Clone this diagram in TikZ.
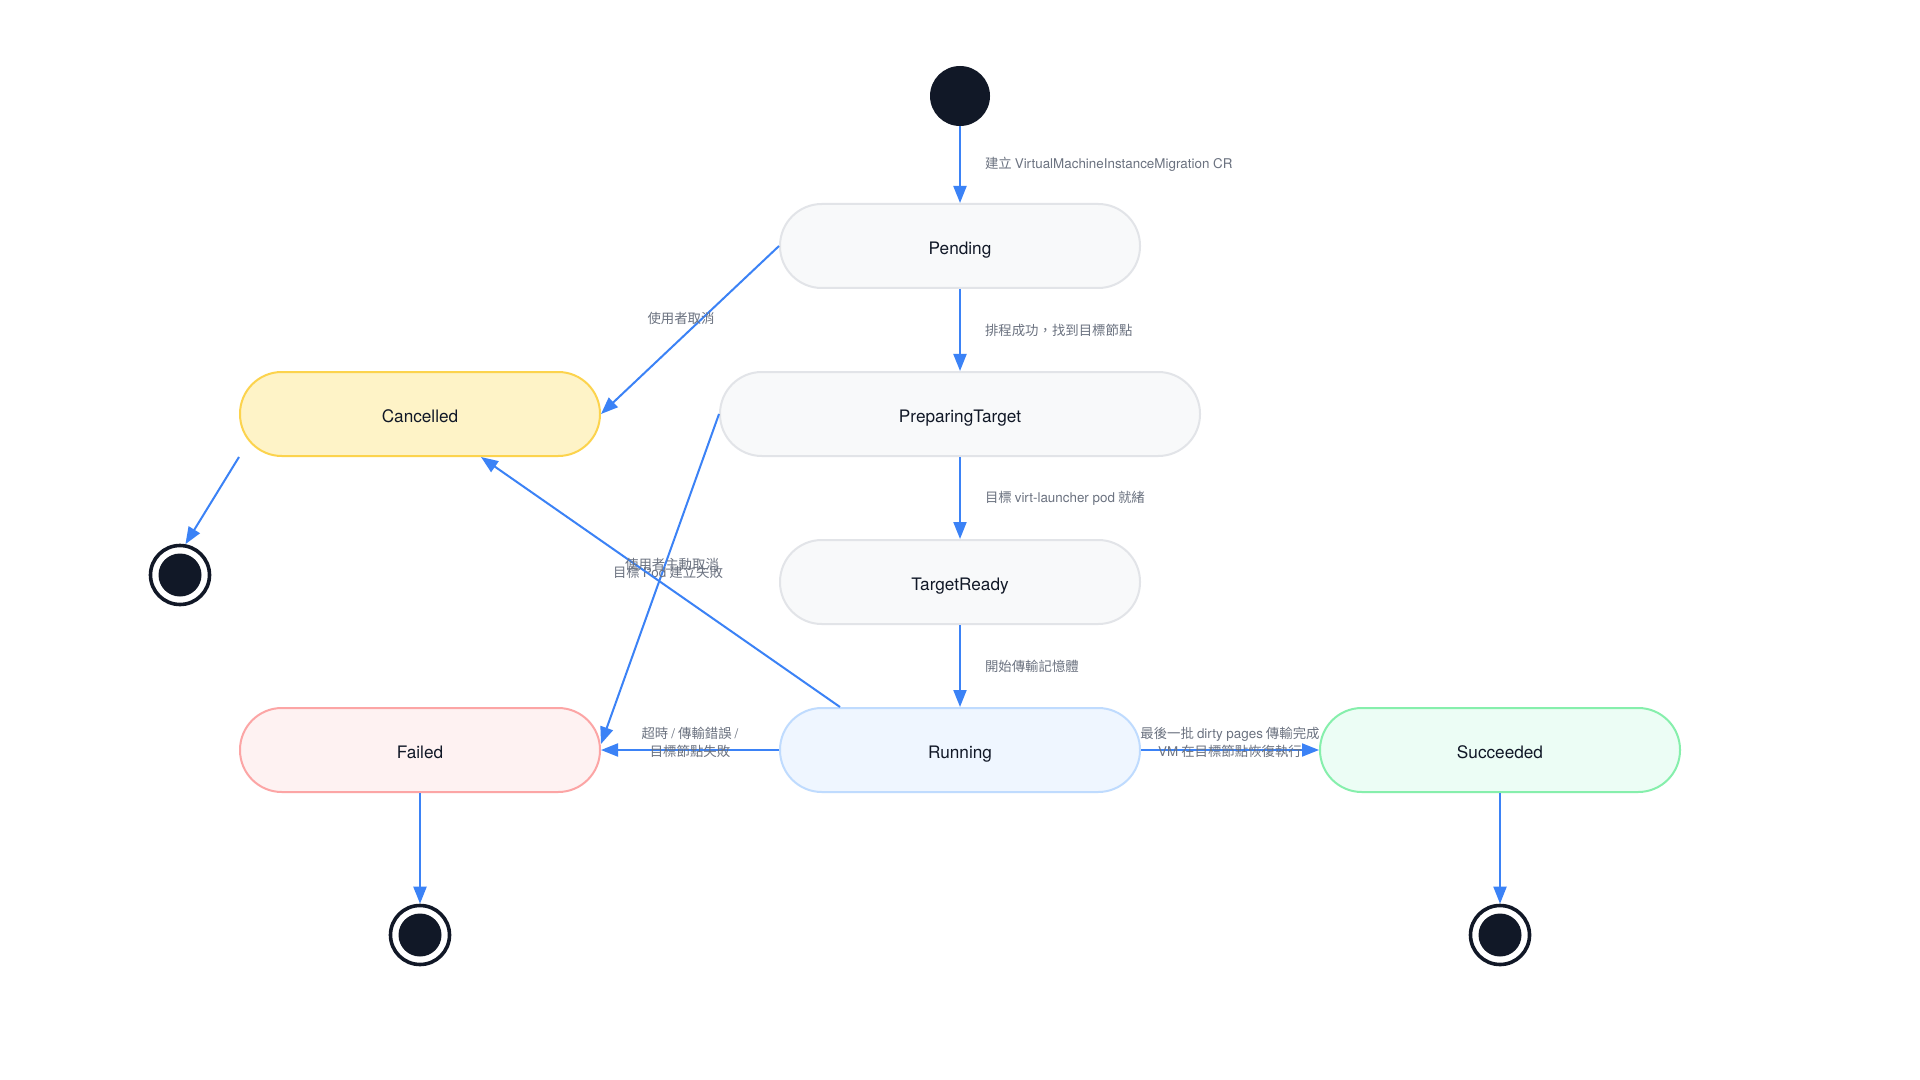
\documentclass[tikz,border=0pt]{standalone}
\usepackage{fontspec}
\usetikzlibrary{arrows.meta,calc}
\newfontfamily\cjk{Noto Sans CJK TC}
\newfontfamily\heros{TeX Gyre Heros}
\newcommand\latn[1]{{\heros #1}}
\definecolor{flowblue}{HTML}{3B82F6}
\definecolor{ink}{HTML}{111827}
\definecolor{lblgray}{HTML}{6B7280}
\definecolor{neutralfill}{HTML}{F8F9FA}
\definecolor{neutralline}{HTML}{E2E4E8}
\definecolor{cancfill}{HTML}{FEF3C7}
\definecolor{cancline}{HTML}{FCD34D}
\definecolor{failfill}{HTML}{FEF2F2}
\definecolor{failline}{HTML}{FCA5A5}
\definecolor{runfill}{HTML}{EFF6FF}
\definecolor{runline}{HTML}{BFDBFE}
\definecolor{succfill}{HTML}{ECFDF5}
\definecolor{succline}{HTML}{86EFAC}
\begin{document}
\begin{tikzpicture}[x=0.5pt,y=-0.5pt,
  state/.style={rectangle, rounded corners=20.9pt, minimum width=180pt, minimum height=42pt,
    line width=1pt, font=\heros\fontsize{8.6pt}{10pt}\selectfont, text=ink, inner sep=0pt,
    text height=8.4pt, text depth=0pt},
  neutral/.style={state, fill=neutralfill, draw=neutralline},
  flow/.style={draw=flowblue, line width=1pt, -{Triangle[length=8.5pt,width=6.5pt]}},
  lbl/.style={font=\cjk\fontsize{6.7pt}{9pt}\selectfont, text=lblgray, inner sep=0pt, align=center},
  startdot/.style={circle, fill=ink, minimum size=30pt, inner sep=0pt},
  endring/.style={circle, draw=ink, line width=1.8pt, fill=white, minimum size=29.5pt, inner sep=0pt},
]
\useasboundingbox[fill=white] (0,0) rectangle (1920,1080);

% states
\node[startdot] (S) at (960,96) {};
\node[neutral] (Pending) at (960,246) {Pending};
\node[neutral, minimum width=240pt] (PT) at (960,414) {PreparingTarget};
\node[neutral] (TR) at (960,582) {TargetReady};
\node[state, fill=runfill, draw=runline] (Run) at (960,750) {Running};
\node[state, fill=cancfill, draw=cancline] (Canc) at (420,414) {Cancelled};
\node[state, fill=failfill, draw=failline] (Fail) at (420,750) {Failed};
\node[state, fill=succfill, draw=succline] (Succ) at (1500,750) {Succeeded};

% end states
\node[endring] (E1) at (180,575) {};
\fill[ink] (E1.center) circle (10.75pt);
\node[endring] (E2) at (420,935) {};
\fill[ink] (E2.center) circle (10.75pt);
\node[endring] (E3) at (1500,935) {};
\fill[ink] (E3.center) circle (10.75pt);

% vertical flow
\draw[flow] (S) -- (Pending) node[midway, lbl, anchor=west, xshift=12pt] {建立 \latn{VirtualMachineInstanceMigration CR}};
\draw[flow] (Pending) -- (PT) node[midway, lbl, anchor=west, xshift=12pt] {排程成功，找到目標節點};
\draw[flow] (PT) -- (TR) node[midway, lbl, anchor=west, xshift=12pt] {目標 \latn{virt-launcher pod} 就緒};
\draw[flow] (TR) -- (Run) node[midway, lbl, anchor=west, xshift=12pt] {開始傳輸記憶體};

% side transitions
\draw[flow] (Pending.west) -- (Canc.east);
\node[lbl] (L1) at (681,318) {使用者取消};

\draw[flow] (PT.west) -- ([yshift=3pt]Fail.east);
\node[lbl] (L2) at (668,572) {目標 \latn{Pod} 建立失敗};

\draw[flow] ([xshift=-60pt]Run.north) -- ([xshift=30.5pt]Canc.south);
\node[lbl] (L3) at (672,564) {使用者主動取消};

\draw[flow] (Run.west) -- (Fail.east);
\node[lbl] (L4) at (690,742) {超時 \latn{/} 傳輸錯誤 \latn{/}\\目標節點失敗};

\draw[flow] (Run.east) -- (Succ.west);
\node[lbl] (L5) at (1230,742) {最後一批 \latn{dirty pages} 傳輸完成\\\latn{VM} 在目標節點恢復執行};

% to end states
\draw[flow] (Canc.south west) -- (E1.80);
\draw[flow] (Fail) -- (E2);
\draw[flow] (Succ) -- (E3);
\end{tikzpicture}
\end{document}
